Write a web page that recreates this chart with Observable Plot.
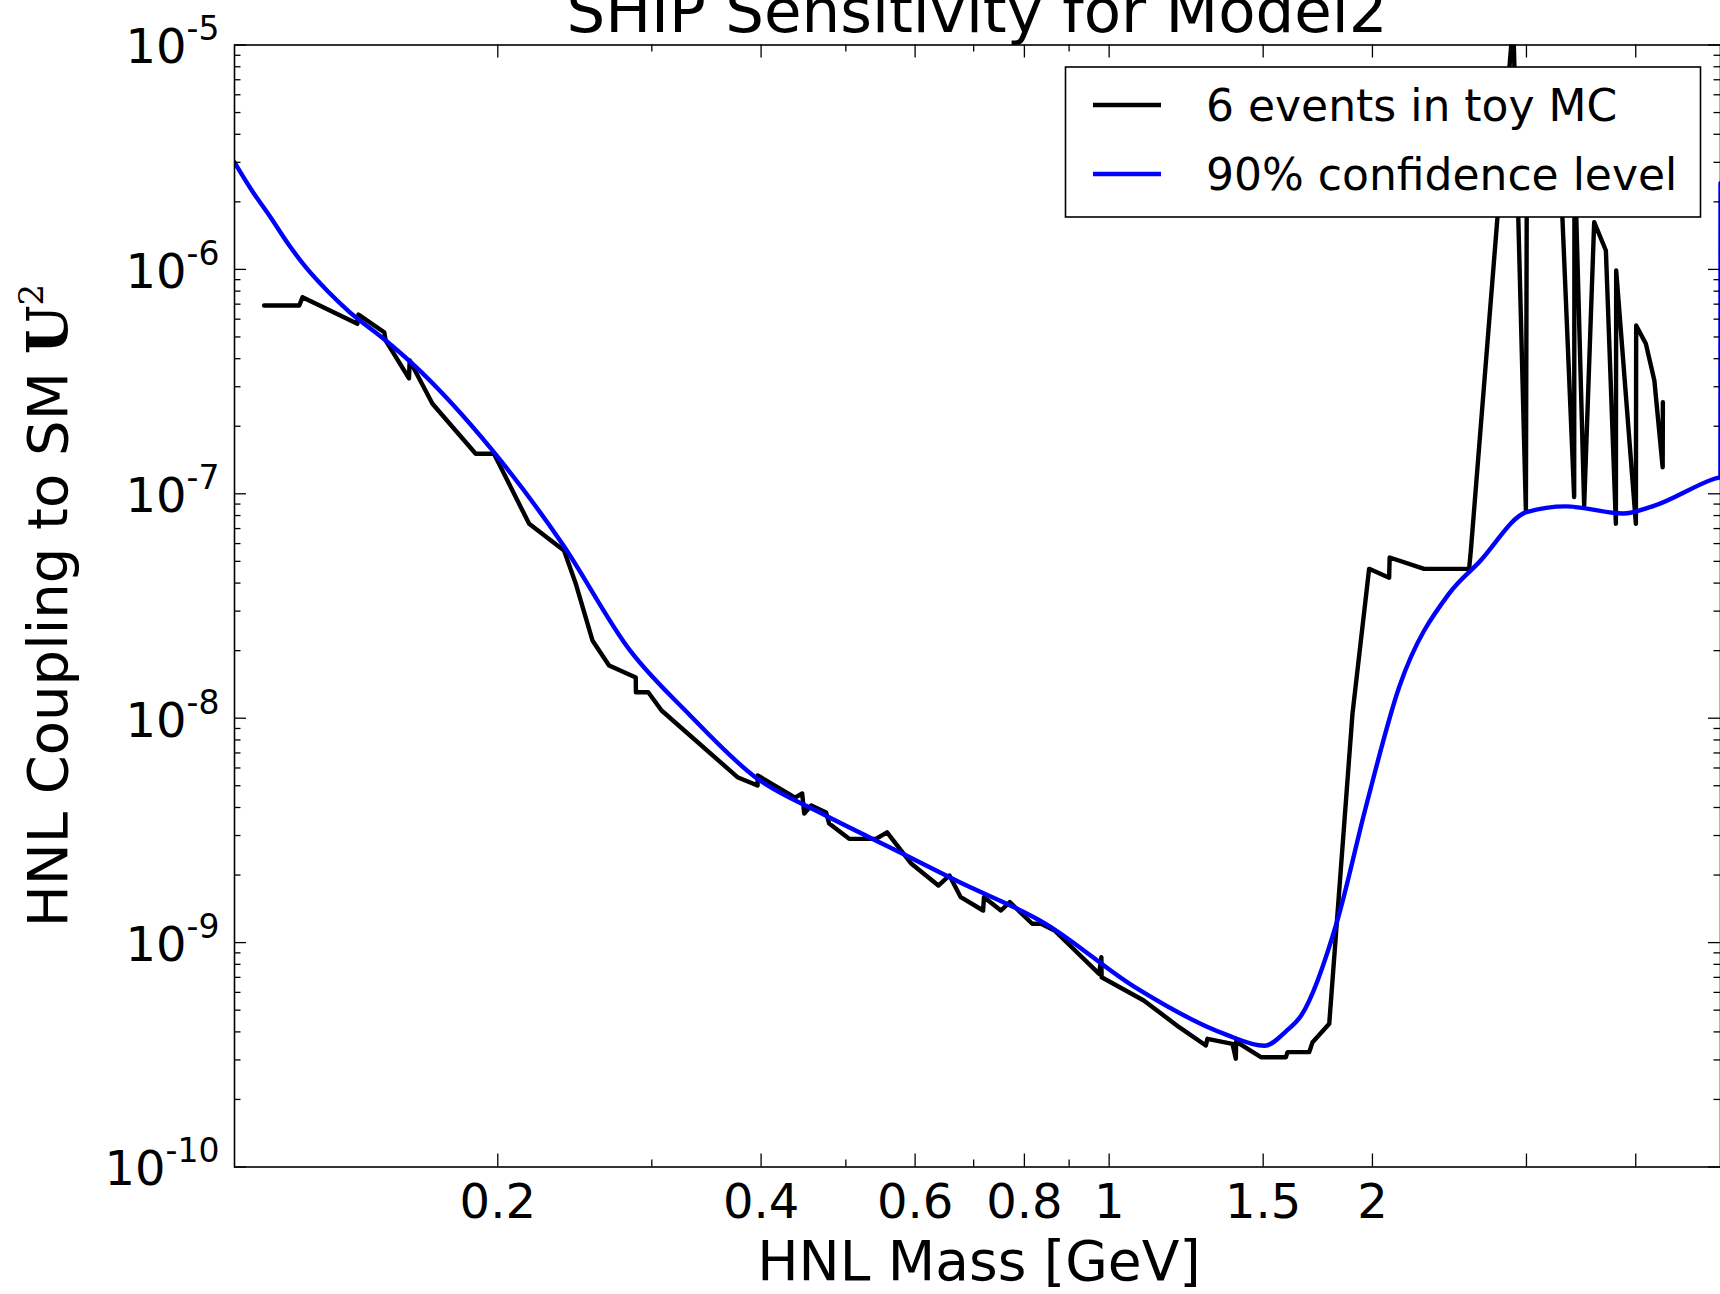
<!DOCTYPE html>
<html><head><meta charset="utf-8">
<script src="https://cdn.jsdelivr.net/npm/d3@7"></script>
<script src="https://cdn.jsdelivr.net/npm/@observablehq/plot@0.6"></script>
<style>
html,body{margin:0;padding:0;background:#fff;}
#wrap{position:relative;width:1720px;height:1294px;overflow:hidden;background:#fff;}
#wrap > svg{position:absolute;left:0;top:0;}
</style></head><body><div id="wrap"></div>
<script>
// ---- data ----
const titleText = "SHIP Sensitivity for Model2";
const xLabelText = "HNL Mass [GeV]";
const yLabelMain = "HNL Coupling to SM ";
const seriesNames = ["6 events in toy MC", "90% confidence level"];

const blackMass = [0.1081,0.1186,0.1196,0.1382,0.1386,0.1483,0.1489,0.1583,0.1586,0.1684,0.1887,0.1980,0.2172,0.2381,0.2456,0.2566,0.2681,0.2876,0.2877,0.2972,0.3078,0.3759,0.3963,0.3964,0.4375,0.4457,0.4481,0.4564,0.4747,0.4785,0.5044,0.5413,0.5573,0.5943,0.6379,0.6568,0.6766,0.7176,0.7193,0.7521,0.7699,0.8167,0.8361,0.8661,0.9740,0.9797,0.9804,1.0954,1.2024,1.2899,1.2953,1.3834,1.3958,1.3969,1.4912,1.5925,1.5992,1.6935,1.7083,1.7850,1.8975,1.9826,2.0899,2.0927,2.2917,2.5797,2.5913,2.8970,2.9955,3.0034,3.2734,3.4015,3.4042,3.4922,3.5854,3.6977,3.7963,3.7993,4.0016,4.0047,4.1082,4.2010,4.2939,4.2962];
const blackU2 = [6.90e-7,6.90e-7,7.52e-7,5.72e-7,6.29e-7,5.25e-7,4.82e-7,3.27e-7,3.93e-7,2.52e-7,1.508e-7,1.508e-7,7.35e-8,5.59e-8,3.97e-8,2.22e-8,1.717e-8,1.519e-8,1.306e-8,1.306e-8,1.082e-8,5.46e-9,5.01e-9,5.56e-9,4.43e-9,4.62e-9,3.76e-9,4.08e-9,3.80e-9,3.39e-9,2.90e-9,2.90e-9,3.10e-9,2.245e-9,1.796e-9,1.991e-9,1.593e-9,1.390e-9,1.593e-9,1.390e-9,1.514e-9,1.213e-9,1.213e-9,1.132e-9,7.26e-10,8.61e-10,7.01e-10,5.52e-10,4.20e-10,3.48e-10,3.725e-10,3.54e-10,3.04e-10,3.62e-10,3.085e-10,3.085e-10,3.25e-10,3.25e-10,3.60e-10,4.35e-10,1.045e-8,4.63e-8,4.23e-8,5.20e-8,4.63e-8,4.63e-8,5.57e-8,1.286e-5,8.42e-8,3.39e-6,3.39e-6,9.66e-8,3.39e-6,8.87e-8,1.623e-6,1.214e-6,7.35e-8,9.89e-7,7.35e-8,5.62e-7,4.66e-7,3.20e-7,1.314e-7,2.56e-7];

const blueMass = [0.1,0.1045,0.1098,0.1151,0.1207,0.1279,0.1352,0.1489,0.1596,0.1972,0.2371,0.2834,0.3304,0.394,0.4699,0.5808,0.6684,0.846,1.07,1.354,1.505,1.596,1.658,1.824,1.965,2.146,2.448,2.649,3.0,3.327,3.87,4.18,4.93,4.999,5.0];
const blueU2 = [3.0e-6,2.27e-6,1.72e-6,1.304e-6,1.020e-6,7.97e-7,6.49e-7,4.82e-7,3.81e-7,1.56e-7,5.98e-8,2.00e-8,1.047e-8,5.46e-9,3.75e-9,2.49e-9,1.89e-9,1.213e-9,6.33e-10,3.92e-10,3.47e-10,4.05e-10,4.73e-10,1.259e-9,4.0e-9,1.377e-8,3.6e-8,4.96e-8,8.28e-8,8.79e-8,8.17e-8,8.79e-8,1.17e-7,1.19e-7,2.42e-6];

const xTickLabels = [0.2,0.4,0.6,0.8,1,1.5,2];
const xTicksLong = [0.2,0.4,0.6,0.8,1,1.5,2,3,4];
const xTicksShort = [0.3,0.5,0.7,0.9];
const yDecades = [1e-10,1e-9,1e-8,1e-7,1e-6,1e-5];

// ---- layout ----
const W = 1720, H = 1294;
const mL = 234, mT = 44.5, mB = 127.5, mR = 0;
const pW = W - mL - mR, pH = H - mT - mB;
const FONT = "DejaVu Sans";
const LW = 4.4;

const black = blackMass.map((m,i)=>({m, u: blackU2[i]}));
const blue = blueMass.map((m,i)=>({m, u: blueU2[i]}));
const yMinor = d3.scaleLog().domain([1e-10,1e-5]).ticks().filter(v => !yDecades.some(d => Math.abs(v/d - 1) < 1e-6));

const chart = Plot.plot({
  width: W, height: H,
  marginLeft: mL, marginTop: mT, marginBottom: mB, marginRight: mR,
  x: {type: "log", domain: [0.1, 5], axis: null},
  y: {type: "log", domain: [1e-10, 1e-5], axis: null},
  style: {fontFamily: FONT, background: "white", color: "black", overflow: "visible"},
  marks: [
    Plot.line(black, {x: "m", y: "u", stroke: "#000", strokeWidth: LW, clip: true}),
    Plot.line(blue, {x: "m", y: "u", stroke: "#0000ff", strokeWidth: LW, curve: "monotone-x", clip: true}),
    // inward ticks on all four sides
    Plot.tickX(xTicksLong, {x: d => d, stroke: "#000", strokeWidth: 1.3, insetTop: pH - 13}),
    Plot.tickX(xTicksLong, {x: d => d, stroke: "#000", strokeWidth: 1.3, insetBottom: pH - 13}),
    Plot.tickX(xTicksShort, {x: d => d, stroke: "#000", strokeWidth: 1.3, insetTop: pH - 7}),
    Plot.tickX(xTicksShort, {x: d => d, stroke: "#000", strokeWidth: 1.3, insetBottom: pH - 7}),
    Plot.tickY(yDecades, {y: d => d, stroke: "#000", strokeWidth: 1.3, insetRight: pW - 12}),
    Plot.tickY(yDecades, {y: d => d, stroke: "#000", strokeWidth: 1.3, insetLeft: pW - 12}),
    Plot.tickY(yMinor, {y: d => d, stroke: "#000", strokeWidth: 1.3, insetRight: pW - 6.5}),
    Plot.tickY(yMinor, {y: d => d, stroke: "#000", strokeWidth: 1.3, insetLeft: pW - 6.5}),
    // x tick labels (through the x scale)
    Plot.text(xTickLabels, {x: d => d, text: d => String(d), frameAnchor: "bottom", lineAnchor: "top", dy: 17, fontSize: 48, fill: "#000"}),
    Plot.axisY({ticks: yDecades, tickFormat: d => "10^" + Math.round(Math.log10(d)), tickSize: 0, tickPadding: 15, fontSize: 48, dy: 3, label: null}),
    Plot.frame({stroke: "#000", strokeWidth: 1.6})
  ]
});

// superscript exponents on the y tick labels
chart.querySelectorAll('g[aria-label="y-axis tick label"] text').forEach(t => {
  const parts = t.textContent.split("^");
  if (parts.length !== 2) return;
  t.textContent = parts[0];
  const ts = document.createElementNS("http://www.w3.org/2000/svg", "tspan");
  ts.setAttribute("font-size", "33");
  ts.setAttribute("dy", "-23");
  ts.textContent = parts[1];
  t.appendChild(ts);
});

const wrap = document.getElementById("wrap");
wrap.appendChild(chart);

// overlay: title, axis labels, legend
const NS = "http://www.w3.org/2000/svg";
const ov = document.createElementNS(NS, "svg");
ov.setAttribute("width", W); ov.setAttribute("height", H);
ov.setAttribute("font-family", FONT);
ov.style.pointerEvents = "none";
function el(tag, attrs, text) {
  const e = document.createElementNS(NS, tag);
  for (const k in attrs) e.setAttribute(k, attrs[k]);
  if (text != null) e.textContent = text;
  return e;
}
ov.appendChild(el("text", {x: mL + pW/2, y: 32, "text-anchor": "middle", "font-size": 61, fill: "#000"}, titleText));
ov.appendChild(el("text", {x: mL + pW/2 + 2, y: 1280, "text-anchor": "middle", "font-size": 55, fill: "#000"}, xLabelText));
const yl = el("text", {transform: `translate(67,${mT + pH/2}) rotate(-90)`, "text-anchor": "middle", "font-size": 56, fill: "#000"});
yl.appendChild(el("tspan", {}, yLabelMain));
yl.appendChild(el("tspan", {"font-family": "DejaVu Serif", "font-weight": "bold"}, "U"));
yl.appendChild(el("tspan", {"font-family": "DejaVu Serif", "font-size": 34, dy: -24}, "2"));
ov.appendChild(yl);

// legend
const lg = el("g", {});
lg.appendChild(el("rect", {x: 1065.5, y: 67, width: 635, height: 150, fill: "#fff", stroke: "#000", "stroke-width": 1.6}));
const colors = ["#000", "#0000ff"];
seriesNames.forEach((name, i) => {
  const yy = 105 + i * 69;
  lg.appendChild(el("line", {x1: 1093, x2: 1161, y1: yy, y2: yy, stroke: colors[i], "stroke-width": LW}));
  lg.appendChild(el("text", {x: 1206, y: yy + 16, "font-size": 44, fill: "#000"}, name));
});
ov.appendChild(lg);
wrap.appendChild(ov);
</script></body></html>
